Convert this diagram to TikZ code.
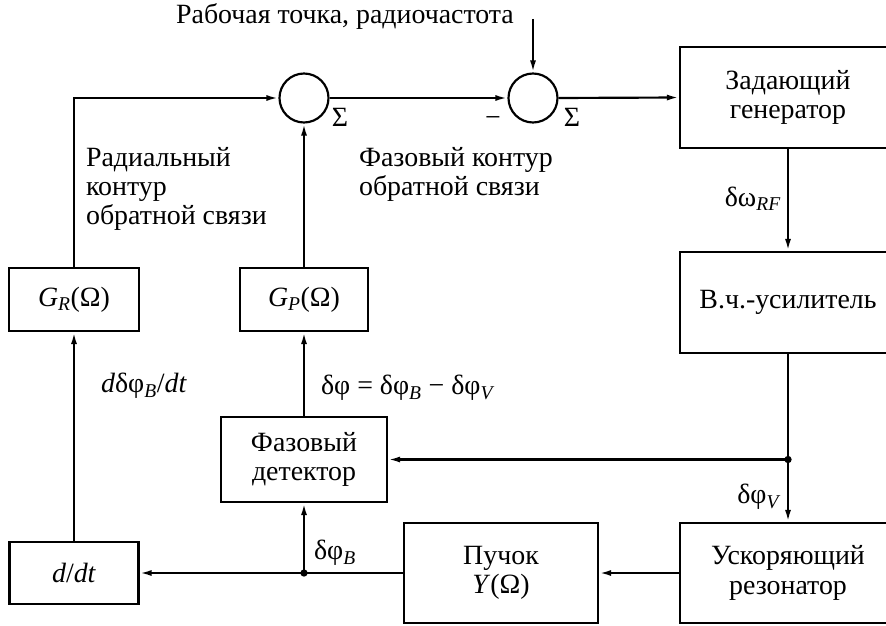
\documentclass[tikz,border=0pt]{standalone}
\usepackage{fontspec}
\setmainfont{Liberation Serif}
\usetikzlibrary{arrows.meta,positioning}
\newcommand{\lo}[1]{\textsubscript{\textit{#1}}}

\begin{document}
\begin{tikzpicture}[x=0.3mm,y=-0.3mm,
  font=\fontsize{23.8}{25}\selectfont,
  line width=0.65mm,
  blk/.style={draw, inner sep=0pt, align=center},
  sumc/.style={draw, circle, minimum size=14.7mm, inner sep=0pt},
  arr/.style={-{Latex[length=3.6mm,width=1.8mm]}},
  lbl/.style={inner sep=0pt}]
  \useasboundingbox (0,0) rectangle (886,625);
  \node[blk, minimum width=64.8mm, minimum height=30.3mm] (gen) at (788,97.5) {Задающий\\генератор};
  \node[blk, minimum width=64.8mm, minimum height=30.3mm] (amp) at (788,302.5) {В.ч.-усилитель};
  \node[blk, minimum width=64.8mm, minimum height=30mm] (res) at (788,573) {Ускоряющий\\резонатор};
  \node[blk, minimum width=58.2mm, minimum height=30mm] (beam) at (501,573) {Пучок\\\textit{Y}(Ω)};
  \node[blk, minimum width=38.7mm, minimum height=18.6mm] (ddt) at (74,573) {\textit{d}/\textit{dt}};
  \node[blk, minimum width=49.8mm, minimum height=25.5mm] (det) at (304,459.5) {Фазовый\\детектор};
  \node[blk, minimum width=38.4mm, minimum height=18.9mm] (gp) at (304,299.5) {\textit{G}\lo{P}(Ω)};
  \node[blk, minimum width=39mm, minimum height=18.9mm] (gr) at (74,299.5) {\textit{G}\lo{R}(Ω)};
  \node[sumc] (s1) at (304,98) {};
  \node[sumc] (s2) at (533,98) {};
  \coordinate (in) at (533,19);
  \coordinate (jv) at (amp.south |- det.east);
  \coordinate (jb) at (det.south |- beam.west);

  \draw[arr] (gr.north) |- (s1.west);
  \draw[arr] (gp.north) -- (s1.south);
  \draw[arr] (s1.east) -- (s2.west);
  \draw[arr] (in) -- (s2.north);
  \draw[arr] (s2.east) -- (gen.west);
  \draw[arr] (gen.south) -- (amp.north);
  \draw[arr] (amp.south) -- (res.north);
  \draw[arr] (jv) -- (det.east);
  \draw[arr] (res.west) -- (beam.east);
  \draw[arr] (beam.west) -- (ddt.east);
  \draw[arr] (jb) -- (det.south);
  \draw[arr] (det.north) -- (gp.south);
  \draw[arr] (ddt.north) -- (gr.south);
  \fill (jv) circle (1.1mm);
  \fill (jb) circle (1.1mm);

  \node[lbl, anchor=base] (inlbl) at (345,24) {Рабочая точка, радиочастота};
  \node[lbl] (sig1) at (340,117) {Σ};
  \node[lbl] (sig2) at (572,117) {Σ};
  \node[lbl] (minus) at (493,122) {−};
  \node[lbl, anchor=north west, align=left] (radlbl) at (85,146) {Радиальный\\контур\\обратной связи};
  \node[lbl, anchor=north west, align=left] (phlbl) at (358,146) {Фазовый контур\\обратной связи};
  \node[lbl, anchor=east] (wrf) at (782,199) {δω\lo{RF}};
  \node[lbl, anchor=east] (phv) at (782,497) {δφ\lo{V}};
  \node[lbl, anchor=west] (phb) at (313,553) {δφ\lo{B}};
  \node[lbl, anchor=west] (dph) at (320,388) {δφ = δφ\lo{B} − δφ\lo{V}};
  \node[lbl, anchor=west] (dphdt) at (100,386) {\textit{d}δφ\lo{B}/\textit{dt}};
\end{tikzpicture}
\end{document}
